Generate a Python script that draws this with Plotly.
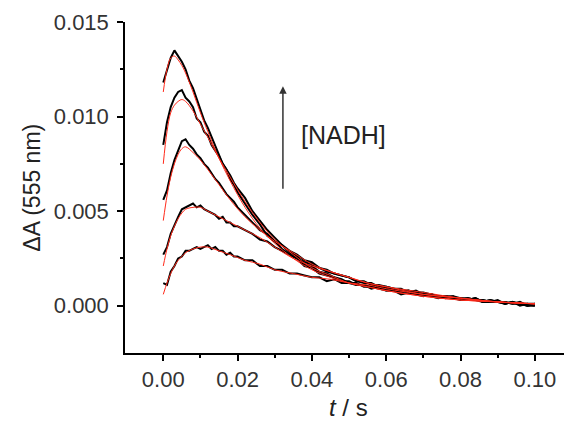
import plotly.graph_objects as go

# fitted curves (smooth)
t_fit = [0, 0.001, 0.002, 0.003, 0.004, 0.005, 0.006, 0.008, 0.010, 0.012, 0.015,
         0.018, 0.022, 0.026, 0.030, 0.035, 0.040, 0.045, 0.050, 0.055, 0.060,
         0.070, 0.080, 0.090, 0.100]
fit1 = [0.0113, 0.0125, 0.0131, 0.0132, 0.0130, 0.0127, 0.0123, 0.0113, 0.0102, 0.0092, 0.0078,
        0.0066, 0.0052, 0.0041, 0.0033, 0.0025, 0.0019, 0.0015, 0.0012, 0.0010, 0.0008,
        0.0005, 0.0003, 0.0002, 0.0001]
fit2 = [0.0075, 0.0092, 0.0102, 0.0106, 0.0108, 0.0109, 0.0108, 0.0103, 0.0096, 0.0089, 0.0078,
        0.0068, 0.0055, 0.0044, 0.0035, 0.0027, 0.0020, 0.0016, 0.0012, 0.0010, 0.0008,
        0.0005, 0.0003, 0.0002, 0.0001]
fit3 = [0.0045, 0.0058, 0.0068, 0.0075, 0.0080, 0.0083, 0.0084, 0.0081, 0.0077, 0.0072, 0.0064,
        0.0056, 0.0047, 0.0040, 0.0034, 0.0028, 0.0022, 0.0018, 0.0015, 0.0012, 0.0010,
        0.0006, 0.0004, 0.0002, 0.0001]
fit4 = [0.0021, 0.0030, 0.0037, 0.0042, 0.0046, 0.0049, 0.0051, 0.0052, 0.0052, 0.0050, 0.0047,
        0.0044, 0.0040, 0.0036, 0.0031, 0.0025, 0.0021, 0.0018, 0.0015, 0.0012, 0.0010,
        0.0007, 0.0004, 0.0002, 0.0001]
fit5 = [0.0006, 0.0012, 0.0017, 0.0021, 0.0024, 0.0026, 0.0028, 0.0030, 0.0031, 0.0031, 0.0029,
        0.0027, 0.0024, 0.0022, 0.0019, 0.0017, 0.0015, 0.0014, 0.0012, 0.0011, 0.0009,
        0.0006, 0.0004, 0.0002, 0.0001]

t_data = [0.000, 0.001, 0.002, 0.003, 0.004, 0.005, 0.006, 0.007, 0.008, 0.009, 0.010,
          0.011, 0.012, 0.013, 0.014, 0.015, 0.016, 0.017, 0.018, 0.019, 0.020,
          0.022, 0.024, 0.026, 0.028, 0.030, 0.032, 0.034, 0.036, 0.038, 0.040,
          0.042, 0.044, 0.046, 0.048, 0.050, 0.052, 0.054, 0.056, 0.058, 0.060,
          0.062, 0.064, 0.066, 0.068, 0.070, 0.072, 0.074, 0.076, 0.078, 0.080,
          0.082, 0.084, 0.086, 0.088, 0.090, 0.092, 0.094, 0.096, 0.098, 0.100]
data1 = [0.0118, 0.0124, 0.0131, 0.0135, 0.0132, 0.0129, 0.0125, 0.0119, 0.0115, 0.0109, 0.0104,
         0.0098, 0.0094, 0.0089, 0.0085, 0.0080, 0.0075, 0.0072, 0.0067, 0.0064, 0.0060,
         0.0054, 0.0048, 0.0043, 0.0037, 0.0034, 0.0030, 0.0027, 0.0025, 0.0021, 0.0020,
         0.0017, 0.0016, 0.0015, 0.0013, 0.0013, 0.0011, 0.0011, 0.0009, 0.0010, 0.0008,
         0.0008, 0.0007, 0.0008, 0.0006, 0.0005, 0.0006, 0.0005, 0.0004, 0.0005, 0.0003,
         0.0004, 0.0003, 0.0002, 0.0003, 0.0002, 0.0001, 0.0002, 0.0000, 0.0001, 0.0001]
data2 = [0.0085, 0.0097, 0.0105, 0.0110, 0.0113, 0.0114, 0.0110, 0.0108, 0.0105, 0.0099, 0.0097,
         0.0092, 0.0090, 0.0085, 0.0082, 0.0079, 0.0075, 0.0072, 0.0069, 0.0065, 0.0062,
         0.0057, 0.0050, 0.0045, 0.0040, 0.0036, 0.0032, 0.0028, 0.0026, 0.0022, 0.0021,
         0.0018, 0.0017, 0.0015, 0.0014, 0.0012, 0.0012, 0.0010, 0.0010, 0.0009, 0.0008,
         0.0008, 0.0006, 0.0007, 0.0006, 0.0006, 0.0005, 0.0004, 0.0005, 0.0004, 0.0003,
         0.0003, 0.0004, 0.0002, 0.0002, 0.0003, 0.0001, 0.0002, 0.0001, 0.0000, 0.0001]
data3 = [0.0056, 0.0061, 0.0070, 0.0077, 0.0082, 0.0087, 0.0088, 0.0085, 0.0083, 0.0080, 0.0078,
         0.0075, 0.0073, 0.0070, 0.0067, 0.0065, 0.0062, 0.0059, 0.0057, 0.0055, 0.0052,
         0.0048, 0.0044, 0.0040, 0.0038, 0.0034, 0.0032, 0.0029, 0.0027, 0.0024, 0.0023,
         0.0020, 0.0019, 0.0017, 0.0016, 0.0015, 0.0013, 0.0013, 0.0011, 0.0011, 0.0010,
         0.0009, 0.0009, 0.0007, 0.0008, 0.0006, 0.0006, 0.0005, 0.0005, 0.0004, 0.0004,
         0.0003, 0.0004, 0.0002, 0.0003, 0.0002, 0.0002, 0.0001, 0.0002, 0.0000, 0.0001]
data4 = [0.0027, 0.0031, 0.0038, 0.0043, 0.0047, 0.0051, 0.0052, 0.0053, 0.0054, 0.0052, 0.0053,
         0.0051, 0.0050, 0.0049, 0.0048, 0.0046, 0.0047, 0.0044, 0.0044, 0.0042, 0.0042,
         0.0040, 0.0038, 0.0035, 0.0034, 0.0031, 0.0029, 0.0027, 0.0025, 0.0023, 0.0022,
         0.0020, 0.0018, 0.0017, 0.0016, 0.0015, 0.0013, 0.0012, 0.0012, 0.0010, 0.0010,
         0.0009, 0.0008, 0.0008, 0.0007, 0.0007, 0.0006, 0.0005, 0.0005, 0.0005, 0.0004,
         0.0003, 0.0003, 0.0003, 0.0002, 0.0002, 0.0002, 0.0001, 0.0001, 0.0001, 0.0000]
data5 = [0.0012, 0.0011, 0.0018, 0.0021, 0.0025, 0.0026, 0.0029, 0.0029, 0.0030, 0.0031, 0.0030,
         0.0031, 0.0032, 0.0030, 0.0031, 0.0029, 0.0029, 0.0027, 0.0028, 0.0026, 0.0026,
         0.0024, 0.0024, 0.0021, 0.0021, 0.0019, 0.0019, 0.0017, 0.0017, 0.0016, 0.0015,
         0.0015, 0.0013, 0.0014, 0.0012, 0.0012, 0.0011, 0.0011, 0.0010, 0.0010, 0.0009,
         0.0008, 0.0008, 0.0007, 0.0007, 0.0006, 0.0006, 0.0005, 0.0005, 0.0004, 0.0004,
         0.0004, 0.0003, 0.0003, 0.0002, 0.0002, 0.0001, 0.0002, 0.0001, 0.0000, 0.0000]

traces = [data1, data2, data3, data4, data5]
fits = [fit1, fit2, fit3, fit4, fit5]

FONT = "Liberation Sans, Arial, sans-serif"

fig = go.Figure()

for d in traces:
    fig.add_trace(go.Scatter(x=t_data, y=d, mode="lines",
                             line=dict(color="black", width=2),
                             showlegend=False, hoverinfo="skip"))
for f in fits:
    fig.add_trace(go.Scatter(x=t_fit, y=f, mode="lines",
                             line=dict(color="#ff2a1a", width=1, shape="spline"),
                             showlegend=False, hoverinfo="skip"))

# arrow + [NADH] label
fig.add_annotation(x=0.0322, y=0.0116, ax=0.0322, ay=0.0061,
                   xref="x", yref="y", axref="x", ayref="y",
                   showarrow=True, arrowhead=2, arrowsize=1, arrowwidth=1.5,
                   arrowcolor="#333333", text="")
fig.add_annotation(x=0.0366, y=0.0090, xref="x", yref="y",
                   text="[NADH]", showarrow=False, xanchor="left", yanchor="middle",
                   font=dict(family=FONT, size=25, color="#222222"))

# axis titles placed by hand in paper space
fig.add_annotation(x=0.5, y=-0.166, xref="paper", yref="paper",
                   text="<i>t</i> / s", showarrow=False, xanchor="center", yanchor="middle",
                   font=dict(family=FONT, size=24, color="#222222"))
fig.add_annotation(x=-0.21, y=0.5, xref="paper", yref="paper",
                   text="ΔA (555 nm)", showarrow=False, textangle=-90,
                   xanchor="center", yanchor="middle",
                   font=dict(family=FONT, size=23, color="#222222"))

fig.update_xaxes(
    range=[-0.0103, 0.11], showgrid=False, zeroline=False, automargin=False,
    showline=True, linecolor="black", linewidth=1.5,
    ticks="outside", ticklen=6, tickwidth=1.5, tickcolor="black",
    tickvals=[0, 0.02, 0.04, 0.06, 0.08, 0.10],
    ticktext=["0.00", "0.02", "0.04", "0.06", "0.08", "0.10"],
    minor=dict(ticks="outside", ticklen=3, tickwidth=1.5, tickcolor="black",
               tickvals=[0.01, 0.03, 0.05, 0.07, 0.09]),
    tickfont=dict(family=FONT, size=22, color="#333333"),
)
fig.update_yaxes(
    range=[-0.0025, 0.015], showgrid=False, zeroline=False, automargin=False,
    showline=True, linecolor="black", linewidth=1.5,
    ticks="outside", ticklen=6, tickwidth=1.5, tickcolor="black",
    tickvals=[0, 0.005, 0.010, 0.015],
    ticktext=["0.000", "0.005", "0.010", "0.015"],
    minor=dict(ticks="outside", ticklen=3, tickwidth=1.5, tickcolor="black",
               tickvals=[0.0025, 0.0075, 0.0125]),
    tickfont=dict(family=FONT, size=22, color="#333333"),
    ticklabelstandoff=4,
)

# page body keeps an 8px margin, so the figure is sized to end at the window edge
fig.update_layout(
    width=564, height=414,
    margin=dict(l=117, r=0, t=14, b=69),
    plot_bgcolor="white", paper_bgcolor="white",
)

fig.write_html("out.html")
